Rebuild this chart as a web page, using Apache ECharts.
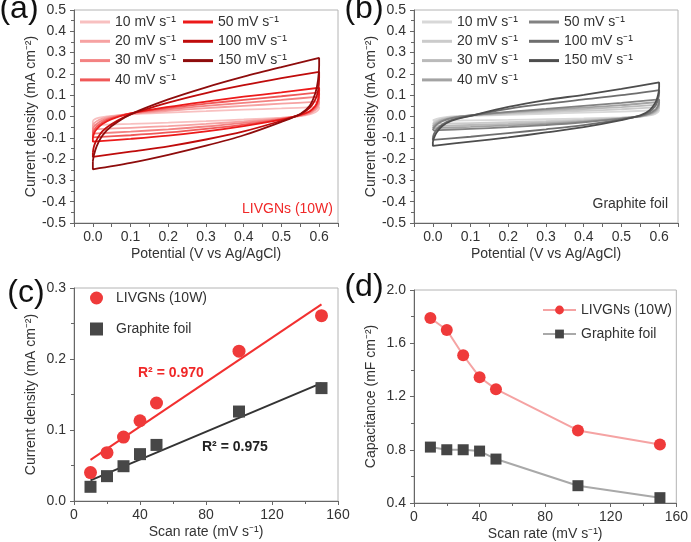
<!DOCTYPE html>
<html><head><meta charset="utf-8">
<script src="https://cdn.jsdelivr.net/npm/echarts@6/dist/echarts.min.js"></script>
<style>html,body{margin:0;padding:0;background:#fff}#c{width:691px;height:542px}</style>
</head><body><div id="c"></div>
<script>
// ---------- DATA ----------
const rates = [10, 20, 30, 40, 50, 100, 150];
const rateLabels = ['10 mV s⁻¹', '20 mV s⁻¹', '30 mV s⁻¹', '40 mV s⁻¹', '50 mV s⁻¹', '100 mV s⁻¹', '150 mV s⁻¹'];
// potentials of the anodic (forward) and cathodic (reverse) sweeps, V
const potUp = [0, 0.003, 0.01, 0.025, 0.05, 0.1, 0.2, 0.3, 0.4, 0.5, 0.6];
const potDown = [0.6, 0.597, 0.59, 0.575, 0.55, 0.5, 0.4, 0.3, 0.2, 0.1, 0];
// (a) LIVGNs (10W) current density, mA cm-2
const livUp = [
  [-0.02, -0.015, -0.009, -0.003, 0.003, 0.010, 0.018, 0.025, 0.032, 0.038, 0.045],
  [-0.04, -0.032, -0.022, -0.010, 0.000, 0.012, 0.027, 0.039, 0.050, 0.060, 0.070],
  [-0.06, -0.048, -0.035, -0.018, -0.004, 0.014, 0.034, 0.050, 0.064, 0.078, 0.093],
  [-0.08, -0.065, -0.048, -0.027, -0.008, 0.015, 0.040, 0.060, 0.078, 0.095, 0.113],
  [-0.10, -0.080, -0.060, -0.035, -0.012, 0.015, 0.045, 0.070, 0.093, 0.113, 0.135],
  [-0.17, -0.140, -0.110, -0.070, -0.035, 0.010, 0.065, 0.110, 0.147, 0.180, 0.210],
  [-0.21, -0.180, -0.140, -0.090, -0.045, 0.010, 0.080, 0.137, 0.187, 0.232, 0.275]
];
const livDown = [
  [0.040, 0.030, 0.020, 0.010, 0.002, -0.005, -0.014, -0.022, -0.029, -0.035, -0.040],
  [0.062, 0.045, 0.030, 0.014, 0.003, -0.008, -0.023, -0.035, -0.045, -0.053, -0.060],
  [0.082, 0.058, 0.038, 0.018, 0.004, -0.010, -0.030, -0.047, -0.060, -0.071, -0.080],
  [0.100, 0.070, 0.045, 0.022, 0.006, -0.012, -0.038, -0.058, -0.075, -0.088, -0.098],
  [0.120, 0.080, 0.050, 0.025, 0.008, -0.015, -0.045, -0.070, -0.090, -0.105, -0.118],
  [0.180, 0.120, 0.080, 0.040, 0.010, -0.020, -0.070, -0.108, -0.140, -0.165, -0.190],
  [0.240, 0.170, 0.110, 0.050, 0.012, -0.025, -0.088, -0.137, -0.180, -0.218, -0.248]
];
// (b) Graphite foil current density, mA cm-2
const gfUp = [
  [-0.020, -0.016, -0.011, -0.005, 0.000, 0.003, 0.008, 0.013, 0.018, 0.023, 0.030],
  [-0.035, -0.028, -0.020, -0.010, -0.002, 0.004, 0.012, 0.020, 0.027, 0.034, 0.044],
  [-0.045, -0.036, -0.026, -0.014, -0.004, 0.005, 0.016, 0.026, 0.035, 0.044, 0.056],
  [-0.055, -0.044, -0.032, -0.018, -0.006, 0.005, 0.019, 0.031, 0.042, 0.053, 0.068],
  [-0.065, -0.052, -0.038, -0.022, -0.008, 0.005, 0.022, 0.036, 0.050, 0.064, 0.080],
  [-0.100, -0.082, -0.062, -0.037, -0.016, 0.004, 0.036, 0.060, 0.080, 0.100, 0.124],
  [-0.120, -0.100, -0.075, -0.045, -0.020, 0.003, 0.045, 0.077, 0.102, 0.130, 0.160]
];
const gfDown = [
  [0.027, 0.020, 0.012, 0.005, 0.000, -0.004, -0.009, -0.013, -0.016, -0.018, -0.020],
  [0.040, 0.030, 0.018, 0.008, 0.000, -0.006, -0.015, -0.022, -0.027, -0.031, -0.035],
  [0.050, 0.036, 0.022, 0.010, 0.000, -0.008, -0.019, -0.028, -0.035, -0.040, -0.045],
  [0.060, 0.043, 0.027, 0.012, 0.001, -0.009, -0.023, -0.034, -0.042, -0.049, -0.055],
  [0.070, 0.050, 0.032, 0.015, 0.002, -0.010, -0.027, -0.040, -0.050, -0.058, -0.065],
  [0.110, 0.080, 0.050, 0.022, 0.003, -0.013, -0.040, -0.060, -0.078, -0.095, -0.110],
  [0.140, 0.100, 0.065, 0.030, 0.005, -0.017, -0.050, -0.075, -0.098, -0.118, -0.138]
];
// (c) current density vs scan rate
const scanRates = [10, 20, 30, 40, 50, 100, 150];
const livCurrent = [0.040, 0.068, 0.090, 0.113, 0.138, 0.211, 0.261];
const gfCurrent = [0.020, 0.035, 0.049, 0.066, 0.079, 0.126, 0.159];
const fitRates = [10, 150];
const livFit = [0.058, 0.277];
const gfFit = [0.029, 0.166];
// (d) capacitance vs scan rate, mF cm-2
const livCap = [1.79, 1.70, 1.51, 1.345, 1.255, 0.945, 0.84];
const gfCap = [0.82, 0.80, 0.80, 0.79, 0.73, 0.53, 0.44];

// ---------- STYLE ----------
const FONT = 'Liberation Sans, Arial, sans-serif';
const redShades = ['#f8c0c0', '#f6a2a2', '#f38282', '#f05858', '#ec1a1a', '#bf0b0b', '#8e0c0c'];
const grayShades = ['#d8d8d8', '#cbcbcb', '#bababa', '#a3a3a3', '#828282', '#6e6e6e', '#4d4d4d'];
const labelMap = {};

const chart = echarts.init(document.getElementById('c'), null, {renderer: 'canvas'});

const grids = [
  {left: 74, top: 10, width: 264, height: 213},
  {left: 414, top: 10, width: 264, height: 213},
  {left: 74, top: 288, width: 264, height: 213},
  {left: 414, top: 290, width: 265, height: 213}
].map(g => Object.assign(g, {show: true, borderColor: '#b4b4b4', borderWidth: 1, backgroundColor: 'transparent'}));

const axisCommon = {
  axisLine: {show: true, onZero: false, lineStyle: {color: '#666', width: 1}},
  axisTick: {show: true, length: 4, lineStyle: {color: '#666'}},
  minorTick: {show: false},
  splitLine: {show: false},
  axisLabel: {color: '#333', fontSize: 14, fontFamily: FONT},
  nameTextStyle: {color: '#333', fontSize: 14, fontFamily: FONT},
  nameLocation: 'middle'
};
function ax(extra) { return Object.assign({}, JSON.parse(JSON.stringify(axisCommon)), extra); }
function potFmt(v) {
  const r = Math.round(v * 100);
  if (r % 10 !== 0 || r < 0 || r > 60) return '';
  return (r / 100).toFixed(1);
}
function fix1(v) { return (Math.abs(v) < 1e-9 ? 0 : v).toFixed(1); }
const minor = {show: true, splitNumber: 2, length: 3, lineStyle: {color: '#666'}};
function lab(extra) { return Object.assign({color: '#333', fontSize: 14, fontFamily: FONT}, extra); }

const xAxes = [
  ax({gridIndex: 0, type: 'value', min: -0.05, max: 0.65, interval: 0.05, axisLabel: lab({margin: 7, formatter: potFmt}), name: 'Potential (V vs Ag/AgCl)', nameGap: 24}),
  ax({gridIndex: 1, type: 'value', min: -0.05, max: 0.65, interval: 0.05, axisLabel: lab({margin: 7, formatter: potFmt}), name: 'Potential (V vs Ag/AgCl)', nameGap: 24}),
  ax({gridIndex: 2, type: 'value', min: 0, max: 160, interval: 40, minorTick: minor, axisLabel: lab({margin: 7}), name: 'Scan rate (mV s⁻¹)', nameGap: 24}),
  ax({gridIndex: 3, type: 'value', min: 0, max: 160, interval: 40, minorTick: minor, axisLabel: lab({margin: 7}), name: 'Scan rate (mV s⁻¹)', nameGap: 24})
];
const yAxes = [
  ax({gridIndex: 0, type: 'value', min: -0.5, max: 0.5, interval: 0.1, minorTick: minor, axisLabel: lab({margin: 8, formatter: fix1}), name: 'Current density (mA cm⁻²)', nameRotate: 90, nameGap: 36}),
  ax({gridIndex: 1, type: 'value', min: -0.5, max: 0.5, interval: 0.1, minorTick: minor, axisLabel: lab({margin: 8, formatter: fix1}), name: 'Current density (mA cm⁻²)', nameRotate: 90, nameGap: 36}),
  ax({gridIndex: 2, type: 'value', min: 0, max: 0.3, interval: 0.1, minorTick: minor, axisLabel: lab({margin: 8, formatter: fix1}), name: 'Current density (mA cm⁻²)', nameRotate: 90, nameGap: 36}),
  ax({gridIndex: 3, type: 'value', min: 0.4, max: 2.0, interval: 0.4, minorTick: minor, axisLabel: lab({margin: 8, formatter: fix1}), name: 'Capacitance (mF cm⁻²)', nameRotate: 90, nameGap: 36})
];

const series = [];
function cvSeries(prefix, idx, ups, downs, colors) {
  const names = [];
  rates.forEach((r, i) => {
    const name = prefix + r;
    labelMap[name] = rateLabels[i];
    names.push(name);
    const data = potUp.map((p, k) => [p, ups[i][k]])
      .concat(potDown.map((p, k) => [p, downs[i][k]]))
      .concat([[potUp[0], ups[i][0]]]);
    series.push({
      name, type: 'line', xAxisIndex: idx, yAxisIndex: idx, data,
      showSymbol: false, symbol: 'none', smooth: 0.3, clip: false,
      lineStyle: {color: colors[i], width: 1.8}, itemStyle: {color: colors[i]},
      z: 2 + i, animation: false
    });
  });
  return names;
}
const aNames = cvSeries('a', 0, livUp, livDown, redShades);
const bNames = cvSeries('b', 1, gfUp, gfDown, grayShades);

labelMap.cLiv = 'LIVGNs (10W)'; labelMap.cGf = 'Graphite foil';
labelMap.dLiv = 'LIVGNs (10W)'; labelMap.dGf = 'Graphite foil';

series.push(
  {name: 'cLivFit', type: 'line', xAxisIndex: 2, yAxisIndex: 2, data: fitRates.map((x, i) => [x, livFit[i]]), showSymbol: false, symbol: 'none', lineStyle: {color: '#f23030', width: 2}, z: 2, animation: false},
  {name: 'cGfFit', type: 'line', xAxisIndex: 2, yAxisIndex: 2, data: fitRates.map((x, i) => [x, gfFit[i]]), showSymbol: false, symbol: 'none', lineStyle: {color: '#333', width: 2}, z: 2, animation: false},
  {name: 'cLiv', type: 'scatter', xAxisIndex: 2, yAxisIndex: 2, data: scanRates.map((x, i) => [x, livCurrent[i]]), symbol: 'circle', symbolSize: 13, itemStyle: {color: '#ef3a3a', opacity: 1}, z: 3, animation: false},
  {name: 'cGf', type: 'scatter', xAxisIndex: 2, yAxisIndex: 2, data: scanRates.map((x, i) => [x, gfCurrent[i]]), symbol: 'rect', symbolSize: 12, itemStyle: {color: '#474747', opacity: 1}, z: 3, animation: false},
  {name: 'dLiv', type: 'line', xAxisIndex: 3, yAxisIndex: 3, data: scanRates.map((x, i) => [x, livCap[i]]), symbol: 'circle', symbolSize: 12, showSymbol: true, lineStyle: {color: '#f5a3a3', width: 2}, itemStyle: {color: '#ef3a3a'}, z: 3, animation: false},
  {name: 'dGf', type: 'line', xAxisIndex: 3, yAxisIndex: 3, data: scanRates.map((x, i) => [x, gfCap[i]]), symbol: 'rect', symbolSize: 11, showSymbol: true, lineStyle: {color: '#a9a9a9', width: 2}, itemStyle: {color: '#454545'}, z: 3, animation: false}
);

const legText = {color: '#333', fontSize: 14, fontFamily: FONT, lineHeight: 14};
const fmt = n => labelMap[n];
const cvLeg = (data, left) => ({data, left, top: 15, padding: 0, orient: 'vertical', icon: 'rect', itemWidth: 30, itemHeight: 3, itemGap: 5.3, formatter: fmt, textStyle: legText, selectedMode: false});
const legends = [
  cvLeg(aNames.slice(0, 4), 80),
  cvLeg(aNames.slice(4), 183),
  cvLeg(bNames.slice(0, 4), 422),
  cvLeg(bNames.slice(4), 529),
  {data: ['cLiv', 'cGf'], left: 90, top: 291, padding: 0, orient: 'vertical', itemWidth: 13, itemHeight: 13, itemGap: 17, formatter: fmt, textStyle: Object.assign({}, legText, {padding: [0, 0, 0, 8]}), selectedMode: false},
  {data: ['dLiv', 'dGf'], left: 542, top: 303, padding: 0, orient: 'vertical', itemWidth: 33, itemHeight: 11, itemGap: 10, formatter: fmt, textStyle: legText, selectedMode: false}
];

function txt(text, x, y, size, color, weight, align) {
  return {type: 'text', x, y, z: 100, style: {text, fontSize: size, fontFamily: FONT, fill: color, fontWeight: weight || 'normal', align: align || 'left', verticalAlign: 'middle'}};
}
const graphics = [
  txt('(a)', 19, 9, 32, '#111', 'normal', 'center'),
  txt('(b)', 364, 9, 32, '#111', 'normal', 'center'),
  txt('(c)', 26, 293, 32, '#111', 'normal', 'center'),
  txt('(d)', 364, 287, 32, '#111', 'normal', 'center'),
  txt('LIVGNs (10W)', 333, 209, 14, '#f02828', 'normal', 'right'),
  txt('Graphite foil', 668, 204, 14, '#333', 'normal', 'right'),
  txt('R² = 0.970', 138, 373, 14, '#f02828', 'bold', 'left'),
  txt('R² = 0.975', 202, 447, 14, '#222', 'bold', 'left')
];

chart.setOption({
  animation: false,
  backgroundColor: '#fff',
  grid: grids,
  xAxis: xAxes,
  yAxis: yAxes,
  legend: legends,
  series,
  graphic: graphics
});
</script></body></html>
